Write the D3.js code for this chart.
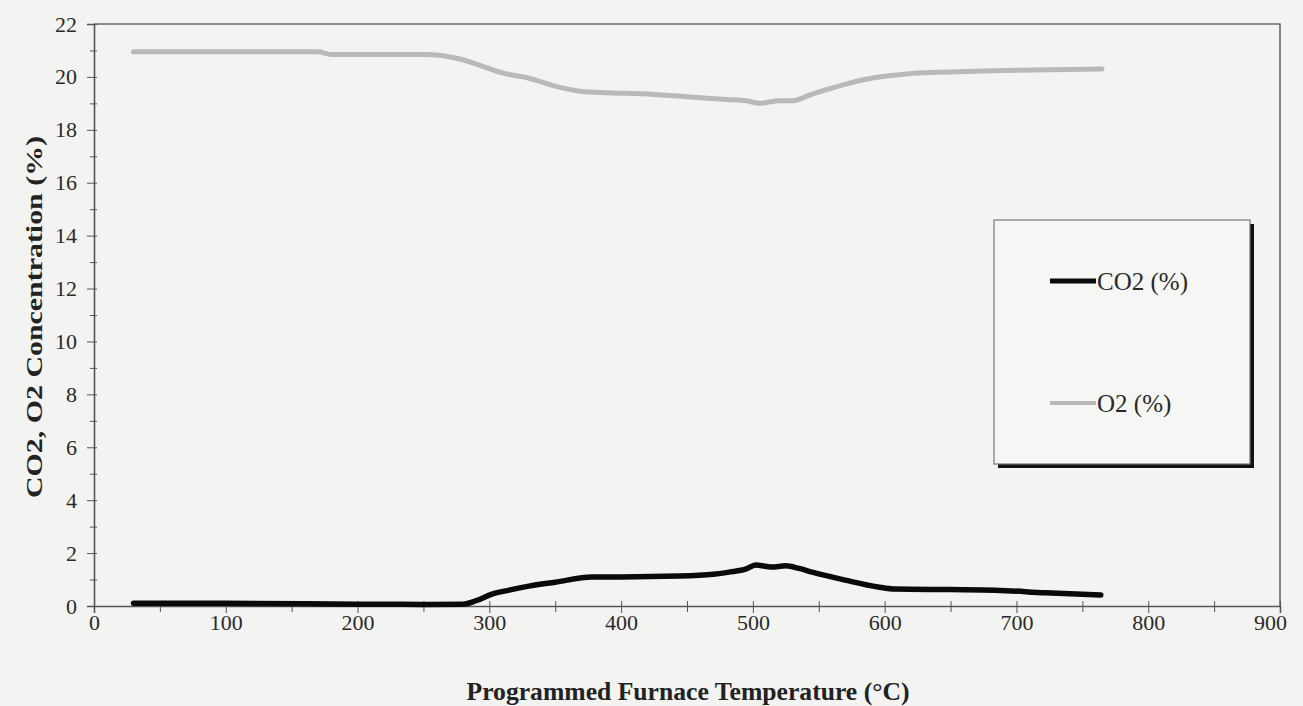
<!DOCTYPE html>
<html>
<head>
<meta charset="utf-8">
<script src="https://cdn.jsdelivr.net/npm/d3@7"></script>
<style>
  body { margin: 0; background: #f3f3f1; }
  svg { display: block; font-family: "Liberation Serif", "Times New Roman", serif; }
</style>
</head>
<body>
<div class="chart"></div>
<script>
// data
var co2Temp = [30, 100, 200, 250, 280, 290, 302, 315, 330, 350, 378, 400, 444, 470, 482, 495, 502, 514, 525, 535, 545, 570, 595, 608, 650, 684, 722, 764];
var co2Vals = [0.1, 0.1, 0.07, 0.06, 0.07, 0.2, 0.45, 0.6, 0.75, 0.9, 1.1, 1.1, 1.13, 1.2, 1.28, 1.4, 1.55, 1.47, 1.52, 1.42, 1.28, 0.98, 0.72, 0.64, 0.62, 0.6, 0.5, 0.42];

var o2Temp = [30, 100, 170, 180, 250, 265, 280, 295, 310, 330, 350, 370, 390, 420, 450, 480, 495, 505, 520, 530, 545, 565, 585, 605, 625, 660, 700, 765];
var o2Vals = [20.95, 20.95, 20.95, 20.85, 20.85, 20.8, 20.65, 20.4, 20.15, 19.95, 19.65, 19.45, 19.4, 19.35, 19.25, 19.15, 19.1, 19.0, 19.1, 19.1, 19.35, 19.65, 19.9, 20.05, 20.15, 20.2, 20.25, 20.3];

var xTicks = [0, 100, 200, 300, 400, 500, 600, 700, 800, 900];
var xMinor = [50, 150, 250, 350, 450, 550, 650, 750, 850];
var yTicks = [0, 2, 4, 6, 8, 10, 12, 14, 16, 18, 20, 22];
var yMinor = [1, 3, 5, 7, 9, 11, 13, 15, 17, 19, 21];

var seriesNames = ["CO2 (%)", "O2 (%)"];
var seriesColors = ["#0a0a0a", "#b9b9b9"];

var svgWidth = 1303;
var svgHeight = 706;

var margin = { top: 24, right: 23, bottom: 100, left: 94 };
var width = svgWidth - margin.left - margin.right;
var height = svgHeight - margin.top - margin.bottom;

var svg = d3.select(".chart")
  .append("svg")
  .attr("width", svgWidth)
  .attr("height", svgHeight);

var chartGroup = svg.append("g")
  .attr("transform", `translate(${margin.left}, ${margin.top})`);

var xScale = d3.scaleLinear().domain([0, 900]).range([0, width]);
var yScale = d3.scaleLinear().domain([0, 22]).range([height, 0]);

// plot frame (top + right)
chartGroup.append("path")
  .attr("d", `M0,0H${width}V${height}`)
  .attr("fill", "none")
  .attr("stroke", "#6a6a6a")
  .attr("stroke-width", 1.6);

// minor ticks
var yMinorAxis = chartGroup.append("g")
  .call(d3.axisLeft(yScale).tickValues(yMinor).tickFormat("").tickSize(4));
yMinorAxis.select(".domain").remove();
yMinorAxis.selectAll(".tick line").attr("x1", 3).attr("stroke", "#555");

var xMinorAxis = chartGroup.append("g")
  .attr("transform", `translate(0, ${height})`)
  .call(d3.axisBottom(xScale).tickValues(xMinor).tickFormat("").tickSize(6));
xMinorAxis.select(".domain").remove();
xMinorAxis.selectAll(".tick line").attr("y1", -5).attr("stroke", "#555");

// y axis
var leftAxis = chartGroup.append("g")
  .call(d3.axisLeft(yScale).tickValues(yTicks).tickSize(7).tickPadding(10));
leftAxis.select(".domain").attr("stroke", "#555").attr("stroke-width", 1.6);
leftAxis.selectAll(".tick line").attr("x1", 3).attr("stroke", "#555");
leftAxis.selectAll("text")
  .style("font-family", "Liberation Serif")
  .style("font-size", "22px")
  .attr("fill", "#2a2a2a");

// x axis
var bottomAxis = chartGroup.append("g")
  .attr("transform", `translate(0, ${height})`)
  .call(d3.axisBottom(xScale).tickValues(xTicks).tickSize(7).tickPadding(1));
bottomAxis.select(".domain").attr("stroke", "#555").attr("stroke-width", 1.6);
bottomAxis.selectAll(".tick line").attr("y1", -5).attr("stroke", "#555");
bottomAxis.selectAll("text")
  .style("font-family", "Liberation Serif")
  .style("font-size", "22px")
  .attr("fill", "#2a2a2a");
bottomAxis.selectAll(".tick").filter(d => d === 900).select("text").attr("dx", -10);

// lines
var line = d3.line()
  .x(d => xScale(d[0]))
  .y(d => yScale(d[1]))
  .curve(d3.curveMonotoneX);

var o2Data = o2Temp.map((t, i) => [t, o2Vals[i]]);
var co2Data = co2Temp.map((t, i) => [t, co2Vals[i]]);

chartGroup.append("path")
  .datum(o2Data)
  .attr("d", line)
  .attr("fill", "none")
  .attr("stroke", seriesColors[1])
  .attr("stroke-width", 5)
  .attr("stroke-linecap", "round");

chartGroup.append("path")
  .datum(co2Data)
  .attr("d", line)
  .attr("fill", "none")
  .attr("stroke", seriesColors[0])
  .attr("stroke-width", 5.5)
  .attr("stroke-linecap", "round");

// legend
var legend = svg.append("g").attr("transform", "translate(994, 220)");
legend.append("rect")
  .attr("x", 4).attr("y", 4)
  .attr("width", 256).attr("height", 244)
  .attr("fill", "#111");
legend.append("rect")
  .attr("width", 256).attr("height", 244)
  .attr("fill", "#f6f6f4")
  .attr("stroke", "#777")
  .attr("stroke-width", 1.2);

var legendRows = [61, 183];
legendRows.forEach(function(yy, i) {
  legend.append("line")
    .attr("x1", 56).attr("x2", 102)
    .attr("y1", yy).attr("y2", yy)
    .attr("stroke", seriesColors[i])
    .attr("stroke-width", i === 0 ? 5 : 4);
  legend.append("text")
    .attr("x", 103).attr("y", yy + 9)
    .style("font-size", "25px")
    .attr("fill", "#2a2a2a")
    .text(seriesNames[i]);
});

// axis titles
svg.append("text")
  .attr("x", 688)
  .attr("y", 700)
  .attr("text-anchor", "middle")
  .attr("textLength", 443)
  .attr("lengthAdjust", "spacingAndGlyphs")
  .style("font-size", "25px")
  .style("font-weight", "bold")
  .attr("fill", "#222")
  .text("Programmed Furnace Temperature (°C)");

svg.append("text")
  .attr("transform", "rotate(-90)")
  .attr("x", -317)
  .attr("y", 42)
  .attr("text-anchor", "middle")
  .attr("textLength", 362)
  .attr("lengthAdjust", "spacingAndGlyphs")
  .style("font-size", "24px")
  .style("font-weight", "bold")
  .attr("fill", "#222")
  .text("CO2, O2 Concentration (%)");
</script>
</body>
</html>
